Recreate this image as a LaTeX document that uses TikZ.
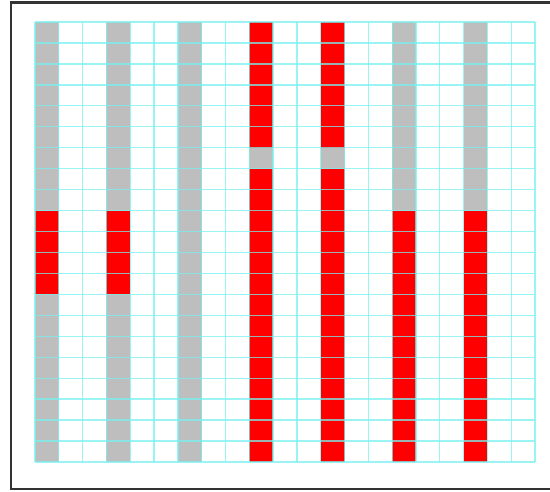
\documentclass[tikz,border=0pt]{standalone}
\usepackage{tikz}
\definecolor{cellgray}{RGB}{190,190,190}
\definecolor{gridcyan}{RGB}{120,240,240}
\newcommand{\cellw}{23.81} % cell width
\newcommand{\cellh}{20.95} % cell height
\tikzset
{
    graycell/.style={fill=cellgray},
    redcell/.style={fill=red},
    gridline/.style={draw=gridcyan, line width=1.3pt, opacity=0.75},
    frameline/.style={draw=black!80, line width=2.6pt},
}

\begin{document}
\begin{tikzpicture}[x=1pt, y=-1pt]
    \useasboundingbox (0,0) rectangle (550,491);

    % Moldura
    \draw[frameline] (553,2.5) -- (11,2.5) -- (11,489) -- (553,489);

    % Colunas cinza com bloco vermelho no meio
    \foreach \c in {0,3} {
        \fill[graycell] ({35+\c*\cellw},22) rectangle ({35+(\c+1)*\cellw},{22+21*\cellh});
        \fill[redcell] ({35+\c*\cellw},{22+9*\cellh}) rectangle ({35+(\c+1)*\cellw},{22+13*\cellh});
    }
    % Coluna toda cinza
    \fill[graycell] ({35+6*\cellw},22) rectangle ({35+7*\cellw},{22+21*\cellh});
    % Colunas vermelhas com uma cela cinza
    \foreach \c in {9,12} {
        \fill[redcell] ({35+\c*\cellw},22) rectangle ({35+(\c+1)*\cellw},{22+21*\cellh});
        \fill[graycell] ({35+\c*\cellw},{22+6*\cellh}) rectangle ({35+(\c+1)*\cellw},{22+7*\cellh});
    }
    % Colunas cinza em cima, vermelhas em baixo
    \foreach \c in {15,18} {
        \fill[graycell] ({35+\c*\cellw},22) rectangle ({35+(\c+1)*\cellw},{22+9*\cellh});
        \fill[redcell] ({35+\c*\cellw},{22+9*\cellh}) rectangle ({35+(\c+1)*\cellw},{22+21*\cellh});
    }

    % Grade
    \foreach \i in {0,...,21} {
        \draw[gridline] ({35+\i*\cellw},22) -- ({35+\i*\cellw},{22+21*\cellh});
        \draw[gridline] (35,{22+\i*\cellh}) -- ({35+21*\cellw},{22+\i*\cellh});
    }
\end{tikzpicture}
\end{document}
